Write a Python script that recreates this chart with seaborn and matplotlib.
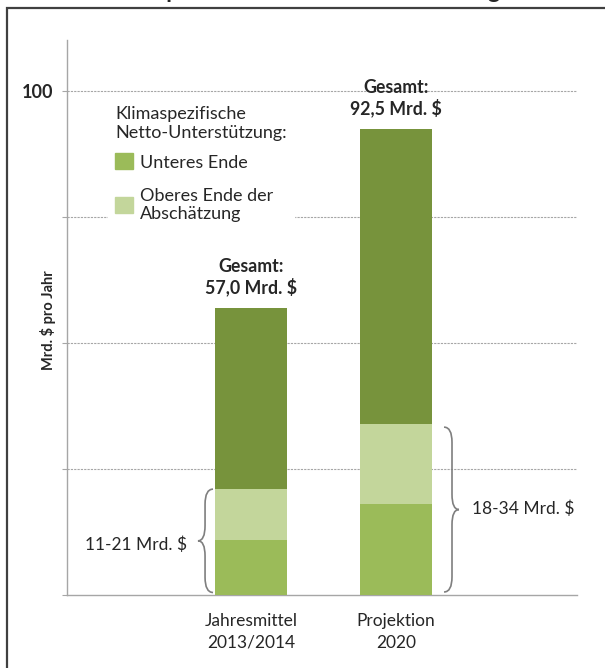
import matplotlib
matplotlib.use("Agg")
import matplotlib.pyplot as plt
import matplotlib.patches as mpatches
from matplotlib.path import Path
import seaborn as sns
import numpy as np
import pandas as pd

# Data
categories = ["Jahresmittel\n2013/2014", "Projektion\n2020"]
lowerEnd = [11.0, 18.0]          # Unteres Ende
upperEnd = [21.0, 34.0]          # Oberes Ende der Abschätzung
totals = [57.0, 92.5]            # Gesamt
totalLabels = ["Gesamt:\n57,0 Mrd. $", "Gesamt:\n92,5 Mrd. $"]
rangeLabels = ["11-21 Mrd. $", "18-34 Mrd. $"]
yTicks = [0, 25, 50, 75, 100]
yTickLabels = ["", "", "", "", "100"]

# Style
darkGreen = "#77933C"
paleGreen = "#C3D69B"
midGreen = "#9BBB59"
gridGrey = "#A6A6A6"
bar_width = 0.503

sns.set_style("white")
plt.rcParams['font.family'] = ['Lato', 'DejaVu Sans']

df = pd.DataFrame({"cat": categories, "lower": lowerEnd,
                   "upper": upperEnd, "total": totals})

fig = plt.figure(figsize=(6.05, 6.68), dpi=100)
ax = fig.add_axes([67 / 605, 1 - 595 / 668, 510 / 605, 555 / 668])

# stacked bars by overplotting cumulative heights
for col, c in [("total", darkGreen), ("upper", paleGreen), ("lower", midGreen)]:
    sns.barplot(data=df, x="cat", y=col, color=c, saturation=1,
                width=bar_width, linewidth=0, ax=ax, zorder=3)

ax.set_ylim(0, 110.1)
ax.set_xlim(-1.269, 2.248)
ax.set_yticks(yTicks)
ax.set_yticklabels(yTickLabels, fontsize=13, fontweight="bold")
for y in yTicks[1:]:
    ax.axhline(y, color=gridGrey, lw=0.8, ls=(0, (2, 1)), zorder=1)

for s in ["top", "right"]:
    ax.spines[s].set_visible(False)
for s in ["left", "bottom"]:
    ax.spines[s].set_color(gridGrey)
    ax.spines[s].set_linewidth(1.0)
ax.tick_params(axis="y", length=3.6, width=0.8, color=gridGrey, pad=6, left=True)
ax.tick_params(axis="x", length=0, pad=13, labelsize=12.5)
for t in ax.get_xticklabels():
    t.set_linespacing(1.45)
ax.set_xlabel("")
ax.set_ylabel("Mrd. $ pro Jahr", fontsize=10.5, fontweight="bold")
ax.yaxis.set_label_coords(-0.0215, 0.495)

# totals above bars
for i, (t, lab) in enumerate(zip(totals, totalLabels)):
    ax.text(i, t + 2.2, lab, ha="center", va="bottom", fontsize=12.8,
            fontweight="bold", linespacing=1.2)


def draw_brace(ax, x_spine, x_end, x_tip, y0, y1, r=3.0):
    ym = (y0 + y1) / 2
    verts = [(x_end, y1), (x_spine, y1), (x_spine, y1 - r),
             (x_spine, ym + r), (x_spine, ym), (x_tip, ym),
             (x_spine, ym), (x_spine, ym - r),
             (x_spine, y0 + r), (x_spine, y0), (x_end, y0)]
    codes = [Path.MOVETO, Path.CURVE3, Path.CURVE3,
             Path.LINETO, Path.CURVE3, Path.CURVE3,
             Path.CURVE3, Path.CURVE3,
             Path.LINETO, Path.CURVE3, Path.CURVE3]
    ax.add_patch(mpatches.PathPatch(Path(verts, codes), fill=False,
                                    edgecolor="#7F7F7F", lw=1.2,
                                    clip_on=False, zorder=4))


draw_brace(ax, -0.317, -0.262, -0.366, 0.5, upperEnd[0])
ax.text(-0.441, 9.9, rangeLabels[0], ha="right", va="center", fontsize=12.5)
draw_brace(ax, 1.386, 1.331, 1.434, 0.6, 33.3)
ax.text(1.524, 17.2, rangeLabels[1], ha="left", va="center", fontsize=12.5)

# legend
handles = [mpatches.Patch(color=midGreen), mpatches.Patch(color=paleGreen)]
leg = ax.legend(handles, ["Unteres Ende", "Oberes Ende der\nAbschätzung"],
                title="Klimaspezifische\nNetto-Unterstützung:",
                loc="upper left", bbox_to_anchor=(0.0628, 0.91),
                frameon=True, fontsize=13, title_fontsize=13,
                handlelength=1.0, handleheight=1.0, handletextpad=0.35,
                labelspacing=0.95, borderpad=0.4, fancybox=False)
leg._legend_box.align = "left"
leg._legend_box.sep = 9
leg.get_frame().set_edgecolor("white")
leg.get_frame().set_facecolor("white")
leg.get_frame().set_alpha(1)
leg.set_zorder(5)

# outer frame and cropped title
fig.patches.append(mpatches.Rectangle((7 / 605, -0.2), 1.2, 1.2 - 8 / 668,
                                      transform=fig.transFigure, fill=False,
                                      edgecolor="#404040", lw=1.6, clip_on=False))
fig.text(0.4926, 1 + 1.5 / 668, "Klimaspezifische Netto-Unterstützung",
         ha="center", va="baseline", fontsize=17, fontweight="bold")

fig.savefig("out.png", dpi=100)
